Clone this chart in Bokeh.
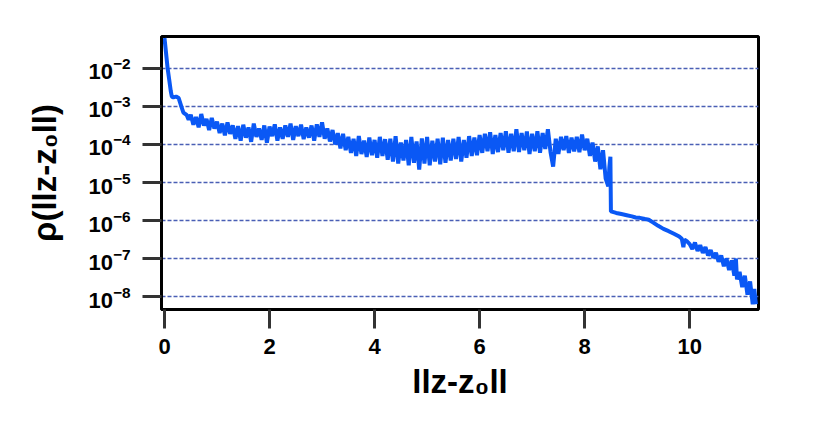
import numpy as np
from bokeh.plotting import figure
from bokeh.models import Range1d, FixedTicker, ColumnDataSource
from bokeh.embed import file_html
from bokeh.resources import INLINE

x_head = [0.0, 0.03, 0.06, 0.09, 0.12, 0.14, 0.17, 0.22, 0.27, 0.32, 0.36, 0.42, 0.46]
log_head = [-1.2, -1.6, -2.0, -2.3, -2.6, -2.74, -2.76, -2.74, -2.78, -3.0, -3.16, -3.22, -3.35]
log_mid = [
    -3.22, -3.48, -3.28, -3.55, -3.20, -3.50, -3.33, -3.62, -3.30, -3.58,
    -3.40, -3.70, -3.45, -3.76, -3.42, -3.72, -3.50,
    -3.85, -3.52, -3.90, -3.48, -3.82, -3.55, -3.93, -3.45, -3.80, -3.58, -3.88, -3.50, -3.95, -3.53, -3.78, -3.47, -3.90, -3.55,
    -3.85, -3.50, -3.80, -3.45, -3.88, -3.52, -3.78, -3.48, -3.86, -3.55, -3.82, -3.50, -3.90, -3.47, -3.80, -3.42, -3.85,
    -3.58, -3.92, -3.62, -4.00, -3.70, -4.10, -3.72, -4.15,
    -3.80, -4.22, -3.85, -4.30, -3.78, -4.25, -3.90, -4.33, -3.82, -4.28, -3.88, -4.35, -3.80, -4.30, -3.86, -4.40,
    -3.85, -4.45, -3.78, -4.50, -3.95, -4.42, -3.88, -4.55, -3.80, -4.48, -3.92, -4.66, -3.84,
    -4.50, -3.80, -4.55, -3.90, -4.45, -3.85, -4.52, -3.82, -4.48, -3.88,
    -4.42, -3.85, -4.38, -3.80, -4.45, -3.88, -4.35, -3.78, -4.30, -3.82, -4.28, -3.75,
    -4.22, -3.72, -4.18, -3.68, -4.25, -3.75, -4.20, -3.70, -4.15, -3.65, -4.22, -3.72, -4.18,
    -3.60, -4.20, -3.70, -4.15, -3.66, -4.25, -3.72, -4.18, -3.65, -4.22, -3.70, -4.12,
    -3.60, -4.20, -4.58, -3.85, -4.25, -3.80, -4.15, -3.78, -4.22, -3.82, -4.18, -3.80, -4.20, -3.74, -4.15, -3.85,
    -4.30, -3.95, -4.45, -4.05, -4.65, -4.15, -4.90, -5.10,
]
x_mid = [round(0.50 + 0.05 * i, 2) for i in range(len(log_mid))]
x_tail = [8.47, 8.49, 8.50, 8.55, 8.6, 8.7, 8.8, 8.9, 8.97, 9.05, 9.15, 9.22, 9.3, 9.4, 9.5,
          9.6, 9.7, 9.8, 9.85, 9.88, 9.9, 9.95, 10.0, 10.05, 10.1, 10.15, 10.2, 10.25, 10.3,
          10.35, 10.4, 10.45, 10.5, 10.55, 10.6, 10.65, 10.7, 10.75, 10.8, 10.85, 10.88, 10.9,
          10.95, 11.0, 11.05, 11.1, 11.15, 11.2, 11.23, 11.26]
log_tail = [-4.60, -4.32, -5.76, -5.78, -5.80, -5.83, -5.86, -5.89, -5.92, -5.93, -5.96, -5.98, -6.05, -6.14, -6.22,
            -6.28, -6.35, -6.42, -6.48, -6.70, -6.50, -6.55, -6.62, -6.75, -6.58, -6.80, -6.65, -6.85, -6.70,
            -6.92, -6.78, -6.98, -6.85, -7.08, -6.92, -7.20, -7.00, -7.30, -7.05, -7.45, -7.00, -7.55,
            -7.35, -7.75, -7.45, -7.95, -7.60, -8.20, -7.80, -8.20]

y_ticks = [1e-8, 1e-7, 1e-6, 1e-5, 1e-4, 1e-3, 1e-2]
x_ticks = [0, 2, 4, 6, 8, 10]

xs = x_head + x_mid + x_tail
ys = [10 ** v for v in (log_head + log_mid + log_tail)]
src = ColumnDataSource(dict(x=xs, y=ys))

p = figure(output_backend="svg", toolbar_location=None, y_axis_type="log",
           frame_width=597, frame_height=273,
           x_range=Range1d(-0.057, 11.31), y_range=Range1d(10 ** -8.34, 10 ** -1.16),
           min_border_left=161, min_border_right=46, min_border_top=36, min_border_bottom=100,
           background_fill_color="white", border_fill_color="white")

p.line("x", "y", source=src, line_color="#0a58f5", line_width=4)

p.xgrid.grid_line_color = None
p.ygrid.grid_line_color = "#4a5fb5"
p.ygrid.grid_line_width = 1.5
p.ygrid.grid_line_dash = "4 2"

p.outline_line_color = "black"
p.outline_line_width = 3

p.yaxis.ticker = FixedTicker(ticks=y_ticks, minor_ticks=[])
p.xaxis.ticker = FixedTicker(ticks=x_ticks, minor_ticks=[])

p.axis.axis_line_color = "black"
p.axis.axis_line_width = 3
p.axis.major_tick_line_width = 3
p.axis.major_tick_out = 19
p.axis.major_tick_in = 0
p.axis.major_tick_line_color = "#333333"
p.axis.minor_tick_line_color = None
p.axis.major_label_text_font = "Liberation Sans"
p.axis.major_label_text_font_style = "bold"
p.axis.major_label_text_font_size = "22px"
p.axis.major_label_text_color = "black"
p.axis.axis_label_text_font = "Liberation Sans"
p.axis.axis_label_text_font_style = "bold"
p.axis.axis_label_text_font_size = "33px"
p.axis.axis_label_text_color = "black"

p.xaxis.axis_label = "llz-z₀ll"
p.yaxis.axis_label = "ρ(llz-z₀ll)"
p.xaxis.major_label_standoff = 10
p.yaxis.major_label_standoff = 12
p.xaxis.axis_label_standoff = 6
p.yaxis.axis_label_standoff = 22

open("out.html", "w").write(file_html(p, INLINE))
